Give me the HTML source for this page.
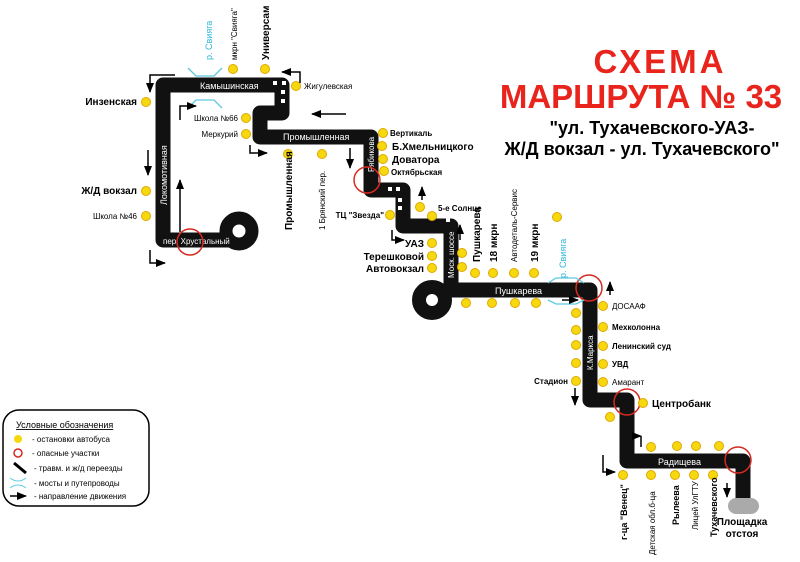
<!DOCTYPE html>
<html><head><meta charset="utf-8"><style>body{margin:0;background:#fff}svg{display:block}</style></head><body>
<svg width="800" height="562" viewBox="0 0 800 562" xmlns="http://www.w3.org/2000/svg" font-family="Liberation Sans, sans-serif">
<defs><marker id="a" markerUnits="userSpaceOnUse" markerWidth="10" markerHeight="8" refX="9" refY="4" orient="auto"><path d="M0,0 L10,4 L0,8z" fill="#000"/></marker></defs>
<rect width="800" height="562" fill="#fff"/>
<text x="660" y="73" font-size="33" font-weight="bold" fill="#e8241c" text-anchor="middle" letter-spacing="3">СХЕМА</text>
<text x="641" y="108" font-size="33" font-weight="bold" fill="#e8241c" text-anchor="middle">МАРШРУТА № 33</text>
<text x="652" y="134" font-size="18" font-weight="bold" text-anchor="middle">"ул. Тухачевского-УАЗ-</text>
<text x="642" y="155" font-size="18" font-weight="bold" text-anchor="middle">Ж/Д вокзал - ул. Тухачевского"</text>
<g fill="none" stroke="#111" stroke-width="15" stroke-linejoin="round">
<path d="M230,240 L163,240 L163,85 L282,85 L282,113 L260,113 L260,137 L371,137 L371,190 L403,190 L403,226 L451,226 L451,290 L590,290 L590,400 L627,400 L627,461 L743,461 L743,500"/>
<circle cx="239" cy="231" r="13" stroke-width="13"/>
<circle cx="432" cy="300" r="13" stroke-width="14"/>
</g>
<rect x="728" y="498" width="31" height="16" rx="8" fill="#aaa"/>
<g fill="#fff"><rect x="273" y="81" width="4" height="4"/><rect x="282" y="81" width="4" height="4"/><rect x="281" y="90" width="4" height="4"/><rect x="281" y="99" width="4" height="4"/><rect x="388" y="187" width="4" height="4"/><rect x="396" y="187" width="4" height="4"/><rect x="398" y="198" width="4" height="4"/><rect x="398" y="206" width="4" height="4"/><rect x="446" y="218" width="4" height="4"/></g>
<g fill="#fff" font-size="9">
<text x="200" y="89">Камышинская</text>
<text x="283" y="140">Промышленная</text>
<text x="495" y="294">Пушкарева</text>
<text x="658" y="465">Радищева</text>
<text x="163" y="244" font-size="8">пер. Хрустальный</text>
<text transform="translate(167,205) rotate(-90)">Локомотивная</text>
<text transform="translate(374,172) rotate(-90)" font-size="8">Рябикова</text>
<text transform="translate(454,278) rotate(-90)" font-size="8">Моск. шоссе</text>
<text transform="translate(593,370) rotate(-90)" font-size="8">К.Маркса</text>
</g>
<g fill="none" stroke="#d62a20" stroke-width="1.5">
<circle cx="190" cy="242" r="13"/><circle cx="367" cy="180" r="13"/><circle cx="589" cy="288" r="13"/><circle cx="627" cy="402" r="13"/><circle cx="738" cy="460" r="13"/>
</g>
<g fill="#f6d80e" stroke="#e0a800" stroke-width="1">
<circle cx="146" cy="102" r="4.5"/><circle cx="146" cy="191" r="4.5"/><circle cx="146" cy="216" r="4.5"/>
<circle cx="233" cy="69" r="4.5"/><circle cx="265" cy="69" r="4.5"/><circle cx="296" cy="86" r="4.5"/>
<circle cx="246" cy="118" r="4.5"/><circle cx="246" cy="134" r="4.5"/><circle cx="288" cy="154" r="4.5"/><circle cx="322" cy="154" r="4.5"/>
<circle cx="383" cy="133" r="4.5"/><circle cx="382" cy="146" r="4.5"/><circle cx="383" cy="159" r="4.5"/><circle cx="384" cy="171" r="4.5"/>
<circle cx="390" cy="215" r="4.5"/><circle cx="420" cy="207" r="4.5"/><circle cx="432" cy="216" r="4.5"/>
<circle cx="432" cy="243" r="4.5"/><circle cx="432" cy="256" r="4.5"/><circle cx="432" cy="268" r="4.5"/>
<circle cx="462" cy="253" r="4.5"/><circle cx="462" cy="267" r="4.5"/><circle cx="475" cy="273" r="4.5"/><circle cx="493" cy="273" r="4.5"/><circle cx="514" cy="273" r="4.5"/><circle cx="534" cy="273" r="4.5"/><circle cx="557" cy="217" r="4.5"/>
<circle cx="466" cy="303" r="4.5"/><circle cx="492" cy="303" r="4.5"/><circle cx="515" cy="303" r="4.5"/><circle cx="536" cy="303" r="4.5"/>
<circle cx="576" cy="313" r="4.5"/><circle cx="576" cy="330" r="4.5"/><circle cx="576" cy="345" r="4.5"/><circle cx="576" cy="363" r="4.5"/><circle cx="576" cy="381" r="4.5"/>
<circle cx="603" cy="306" r="4.5"/><circle cx="603" cy="327" r="4.5"/><circle cx="603" cy="346" r="4.5"/><circle cx="603" cy="364" r="4.5"/><circle cx="603" cy="382" r="4.5"/>
<circle cx="643" cy="403" r="4.5"/><circle cx="610" cy="417" r="4.5"/>
<circle cx="651" cy="447" r="4.5"/><circle cx="677" cy="446" r="4.5"/><circle cx="696" cy="446" r="4.5"/><circle cx="719" cy="446" r="4.5"/>
<circle cx="623" cy="475" r="4.5"/><circle cx="651" cy="475" r="4.5"/><circle cx="675" cy="475" r="4.5"/><circle cx="694" cy="475" r="4.5"/><circle cx="713" cy="475" r="4.5"/>
</g>
<g font-size="8.5" font-weight="bold">
<text x="137" y="105" text-anchor="end" font-size="10">Инзенская</text>
<text x="137" y="194" text-anchor="end" font-size="10">Ж/Д вокзал</text>
<text x="137" y="219" text-anchor="end" font-weight="normal" font-size="8">Школа №46</text>
<text x="304" y="89" font-weight="normal" font-size="8">Жигулевская</text>
<text x="238" y="121" text-anchor="end" font-weight="normal" font-size="8">Школа №66</text>
<text x="238" y="137" text-anchor="end" font-weight="normal" font-size="8">Меркурий</text>
<text x="390" y="136" font-size="8">Вертикаль</text>
<text x="392" y="150" font-size="10">Б.Хмельницкого</text>
<text x="392" y="163" font-size="10">Доватора</text>
<text x="391" y="175" font-size="8">Октябрьская</text>
<text x="384" y="218" text-anchor="end" font-size="8">ТЦ "Звезда"</text>
<text x="438" y="211" font-size="8">5-е Солнце</text>
<text x="424" y="247" text-anchor="end" font-size="10">УАЗ</text>
<text x="424" y="260" text-anchor="end" font-size="10">Терешковой</text>
<text x="424" y="272" text-anchor="end" font-size="10">Автовокзал</text>
<text x="612" y="309" font-weight="normal" font-size="8">ДОСААФ</text>
<text x="612" y="330" font-size="8">Мехколонна</text>
<text x="612" y="349" font-size="8">Ленинский суд</text>
<text x="612" y="367" font-size="8">УВД</text>
<text x="612" y="385" font-weight="normal" font-size="8">Амарант</text>
<text x="652" y="407" font-size="10">Центробанк</text>
<text x="568" y="384" text-anchor="end" font-size="8">Стадион</text>
<text x="742" y="525" text-anchor="middle" font-size="10">Площадка</text>
<text x="742" y="537" text-anchor="middle" font-size="10">отстоя</text>
<text transform="translate(292,230) rotate(-90)" font-size="10">Промышленная</text>
<text transform="translate(325,230) rotate(-90)" font-weight="normal" font-size="8">1 Брянский пер.</text>
<text transform="translate(237,60) rotate(-90)" font-weight="normal" font-size="8">мкрн "Свияга"</text>
<text transform="translate(269,60) rotate(-90)" font-size="10">Универсам</text>
<text transform="translate(480,262) rotate(-90)" font-size="10">Пушкарева</text>
<text transform="translate(497,262) rotate(-90)" font-size="10">18 мкрн</text>
<text transform="translate(517,262) rotate(-90)" font-weight="normal" font-size="8">Автодеталь-Сервис</text>
<text transform="translate(538,262) rotate(-90)" font-size="10">19 мкрн</text>
<text transform="translate(627,540) rotate(-90)" font-size="9">г-ца "Венец"</text>
<text transform="translate(655,555) rotate(-90)" font-weight="normal" font-size="8">Детская обл.б-ца</text>
<text transform="translate(679,525) rotate(-90)" font-size="9">Рылеева</text>
<text transform="translate(698,530) rotate(-90)" font-weight="normal" font-size="8">Лицей УлГТУ</text>
<text transform="translate(717,537) rotate(-90)" font-size="9">Тухачевского</text>
</g>
<g fill="#2bb5d5" font-size="9"><text transform="translate(212,60) rotate(-90)">р. Свияга</text><text transform="translate(566,278) rotate(-90)">р. Свияга</text></g>
<g fill="none" stroke="#5ec8e0" stroke-width="1.3">
<path d="M188,68 L196,76 L214,76 L222,68"/><path d="M188,108 L196,100 L214,100 L222,108"/>
<path d="M548,283 L556,278 L576,278 L584,283"/><path d="M548,300 L556,304 L576,304 L584,300"/>
</g>
<g stroke="#000" stroke-width="1.5" fill="none" marker-end="url(#a)">
<path d="M175,75 L150,75 L150,92"/><path d="M300,83 L300,72 L282,72"/>
<path d="M180,120 L180,106 L196,106"/><path d="M250,145 L250,153 L267,153"/>
<path d="M346,114 L312,114"/><path d="M148,150 L148,175"/><path d="M180,232 L180,180"/>
<path d="M150,250 L150,263 L165,263"/><path d="M350,148 L350,168"/>
<path d="M422,200 L422,187"/><path d="M392,230 L392,240 L404,240"/><path d="M460,240 L460,225"/>
<path d="M562,300 L578,300"/><path d="M610,295 L610,282"/><path d="M575,388 L575,405"/>
<path d="M641,447 L641,436 L641,436"/><path d="M603,455 L603,472 L615,472"/><path d="M727,483 L727,497"/>
</g>
<rect x="3" y="410" width="146" height="96" rx="16" fill="#fff" stroke="#000" stroke-width="1.5"/>
<g font-size="8">
<text x="16" y="428" font-size="9" text-decoration="underline">Условные обозначения</text>
<circle cx="18" cy="439" r="4" fill="#f6d80e"/><text x="32" y="442">- остановки автобуса</text>
<circle cx="18" cy="453" r="4" fill="none" stroke="#d62a20" stroke-width="1.5"/><text x="32" y="456">- опасные участки</text>
<path d="M14,463 L26,473" stroke="#000" stroke-width="3"/><text x="34" y="471">- травм. и ж/д переезды</text>
<path d="M10,478 Q18,484 26,478 M10,488 Q18,482 26,488" stroke="#5ec8e0" fill="none"/><text x="34" y="486">- мосты и путепроводы</text>
<path d="M10,496 L26,496" stroke="#000" stroke-width="1.5" marker-end="url(#a)"/><text x="34" y="499">- направление движения</text>
</g>
</svg>
</body></html>
